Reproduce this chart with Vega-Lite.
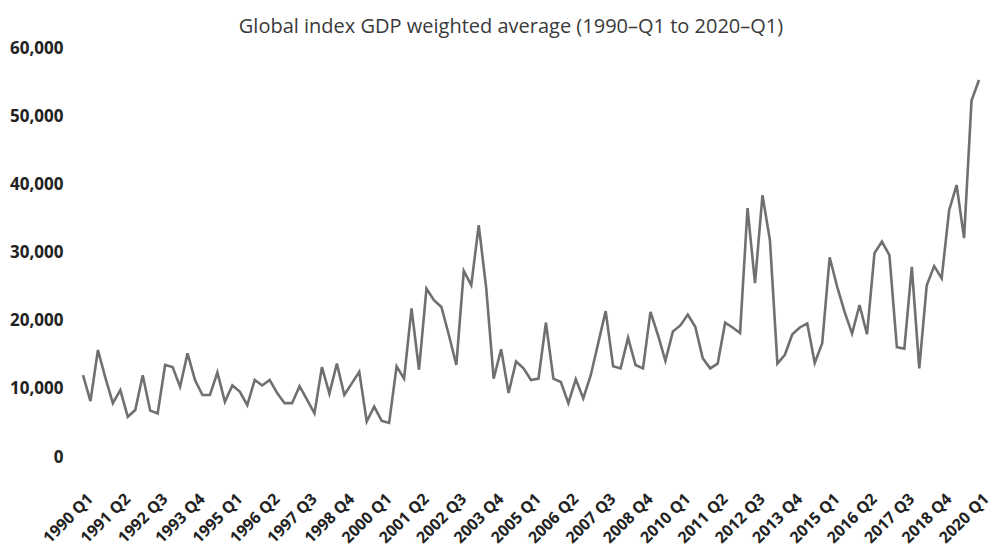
{
  "$schema": "https://vega.github.io/schema/vega-lite/v6.json",
  "width": 896,
  "height": 409,
  "autosize": {"type": "none"},
  "padding": {"left": 83, "top": 48, "right": 17, "bottom": 94},
  "background": "white",
  "title": {
    "text": "Global index GDP weighted average (1990–Q1 to 2020–Q1)",
    "font": "Open Sans",
    "fontSize": 20,
    "fontWeight": "normal",
    "color": "#3a3a3a",
    "anchor": "middle",
    "dx": -20,
    "offset": 2
  },
  "config": {"view": {"stroke": null}},
  "data": {
    "values": [
      {"q": "1990 Q1", "v": 12000}, {"q": "1990 Q2", "v": 8200}, {"q": "1990 Q3", "v": 15700}, {"q": "1990 Q4", "v": 11600},
      {"q": "1991 Q1", "v": 7900}, {"q": "1991 Q2", "v": 9800}, {"q": "1991 Q3", "v": 5900}, {"q": "1991 Q4", "v": 6900},
      {"q": "1992 Q1", "v": 12000}, {"q": "1992 Q2", "v": 6800}, {"q": "1992 Q3", "v": 6400}, {"q": "1992 Q4", "v": 13500},
      {"q": "1993 Q1", "v": 13200}, {"q": "1993 Q2", "v": 10300}, {"q": "1993 Q3", "v": 15200}, {"q": "1993 Q4", "v": 11300},
      {"q": "1994 Q1", "v": 9100}, {"q": "1994 Q2", "v": 9100}, {"q": "1994 Q3", "v": 12400}, {"q": "1994 Q4", "v": 8100},
      {"q": "1995 Q1", "v": 10500}, {"q": "1995 Q2", "v": 9600}, {"q": "1995 Q3", "v": 7600}, {"q": "1995 Q4", "v": 11300},
      {"q": "1996 Q1", "v": 10500}, {"q": "1996 Q2", "v": 11300}, {"q": "1996 Q3", "v": 9400}, {"q": "1996 Q4", "v": 7900},
      {"q": "1997 Q1", "v": 7900}, {"q": "1997 Q2", "v": 10400}, {"q": "1997 Q3", "v": 8400}, {"q": "1997 Q4", "v": 6400},
      {"q": "1998 Q1", "v": 13200}, {"q": "1998 Q2", "v": 9300}, {"q": "1998 Q3", "v": 13700}, {"q": "1998 Q4", "v": 9100},
      {"q": "1999 Q1", "v": 10800}, {"q": "1999 Q2", "v": 12500}, {"q": "1999 Q3", "v": 5200}, {"q": "1999 Q4", "v": 7400},
      {"q": "2000 Q1", "v": 5300}, {"q": "2000 Q2", "v": 5000}, {"q": "2000 Q3", "v": 13300}, {"q": "2000 Q4", "v": 11500},
      {"q": "2001 Q1", "v": 21800}, {"q": "2001 Q2", "v": 12800}, {"q": "2001 Q3", "v": 24700}, {"q": "2001 Q4", "v": 23000},
      {"q": "2002 Q1", "v": 22000}, {"q": "2002 Q2", "v": 17900}, {"q": "2002 Q3", "v": 13500}, {"q": "2002 Q4", "v": 27300},
      {"q": "2003 Q1", "v": 25200}, {"q": "2003 Q2", "v": 34000}, {"q": "2003 Q3", "v": 24800}, {"q": "2003 Q4", "v": 11500},
      {"q": "2004 Q1", "v": 15800}, {"q": "2004 Q2", "v": 9400}, {"q": "2004 Q3", "v": 14000}, {"q": "2004 Q4", "v": 13000},
      {"q": "2005 Q1", "v": 11300}, {"q": "2005 Q2", "v": 11500}, {"q": "2005 Q3", "v": 19700}, {"q": "2005 Q4", "v": 11500},
      {"q": "2006 Q1", "v": 11000}, {"q": "2006 Q2", "v": 7900}, {"q": "2006 Q3", "v": 11400}, {"q": "2006 Q4", "v": 8600},
      {"q": "2007 Q1", "v": 12000}, {"q": "2007 Q2", "v": 16700}, {"q": "2007 Q3", "v": 21400}, {"q": "2007 Q4", "v": 13300},
      {"q": "2008 Q1", "v": 13000}, {"q": "2008 Q2", "v": 17500}, {"q": "2008 Q3", "v": 13500}, {"q": "2008 Q4", "v": 13000},
      {"q": "2009 Q1", "v": 21300}, {"q": "2009 Q2", "v": 17900}, {"q": "2009 Q3", "v": 14100}, {"q": "2009 Q4", "v": 18400},
      {"q": "2010 Q1", "v": 19300}, {"q": "2010 Q2", "v": 20900}, {"q": "2010 Q3", "v": 19100}, {"q": "2010 Q4", "v": 14500},
      {"q": "2011 Q1", "v": 13000}, {"q": "2011 Q2", "v": 13700}, {"q": "2011 Q3", "v": 19700}, {"q": "2011 Q4", "v": 19000},
      {"q": "2012 Q1", "v": 18200}, {"q": "2012 Q2", "v": 36500}, {"q": "2012 Q3", "v": 25500}, {"q": "2012 Q4", "v": 38400},
      {"q": "2013 Q1", "v": 31800}, {"q": "2013 Q2", "v": 13700}, {"q": "2013 Q3", "v": 15000}, {"q": "2013 Q4", "v": 18000},
      {"q": "2014 Q1", "v": 19000}, {"q": "2014 Q2", "v": 19600}, {"q": "2014 Q3", "v": 13800}, {"q": "2014 Q4", "v": 16700},
      {"q": "2015 Q1", "v": 29300}, {"q": "2015 Q2", "v": 25000}, {"q": "2015 Q3", "v": 21300}, {"q": "2015 Q4", "v": 18100},
      {"q": "2016 Q1", "v": 22300}, {"q": "2016 Q2", "v": 18000}, {"q": "2016 Q3", "v": 29900}, {"q": "2016 Q4", "v": 31600},
      {"q": "2017 Q1", "v": 29600}, {"q": "2017 Q2", "v": 16100}, {"q": "2017 Q3", "v": 15900}, {"q": "2017 Q4", "v": 27900},
      {"q": "2018 Q1", "v": 13000}, {"q": "2018 Q2", "v": 25200}, {"q": "2018 Q3", "v": 28000}, {"q": "2018 Q4", "v": 26200},
      {"q": "2019 Q1", "v": 36200}, {"q": "2019 Q2", "v": 39900}, {"q": "2019 Q3", "v": 32100}, {"q": "2019 Q4", "v": 52300},
      {"q": "2020 Q1", "v": 55300}
    ]
  },
  "mark": {"type": "line", "color": "#707070", "strokeWidth": 2.6, "strokeJoin": "miter"},
  "encoding": {
    "x": {
      "field": "q",
      "type": "ordinal",
      "sort": null,
      "scale": {"type": "point", "padding": 0},
      "axis": {
        "title": null,
        "values": ["1990 Q1", "1991 Q2", "1992 Q3", "1993 Q4", "1995 Q1", "1996 Q2", "1997 Q3", "1998 Q4", "2000 Q1", "2001 Q2", "2002 Q3", "2003 Q4", "2005 Q1", "2006 Q2", "2007 Q3", "2008 Q4", "2010 Q1", "2011 Q2", "2012 Q3", "2013 Q4", "2015 Q1", "2016 Q2", "2017 Q3", "2018 Q4", "2020 Q1"],
        "labelAngle": -45,
        "labelAlign": "right",
        "labelBaseline": "middle",
        "labelOffset": 7,
        "labelPadding": 39,
        "labelFont": "Open Sans",
        "labelFontSize": 16,
        "labelFontWeight": "bold",
        "labelColor": "#222222",
        "labelOverlap": false,
        "ticks": false,
        "domain": false,
        "grid": false
      }
    },
    "y": {
      "field": "v",
      "type": "quantitative",
      "scale": {"domain": [0, 60000], "nice": false},
      "axis": {
        "title": null,
        "values": [0, 10000, 20000, 30000, 40000, 50000, 60000],
        "format": ",.0f",
        "labelFont": "Open Sans",
        "labelFontSize": 17,
        "labelFontWeight": "bold",
        "labelColor": "#222222",
        "labelPadding": 20,
        "ticks": false,
        "domain": false,
        "grid": false
      }
    }
  }
}
